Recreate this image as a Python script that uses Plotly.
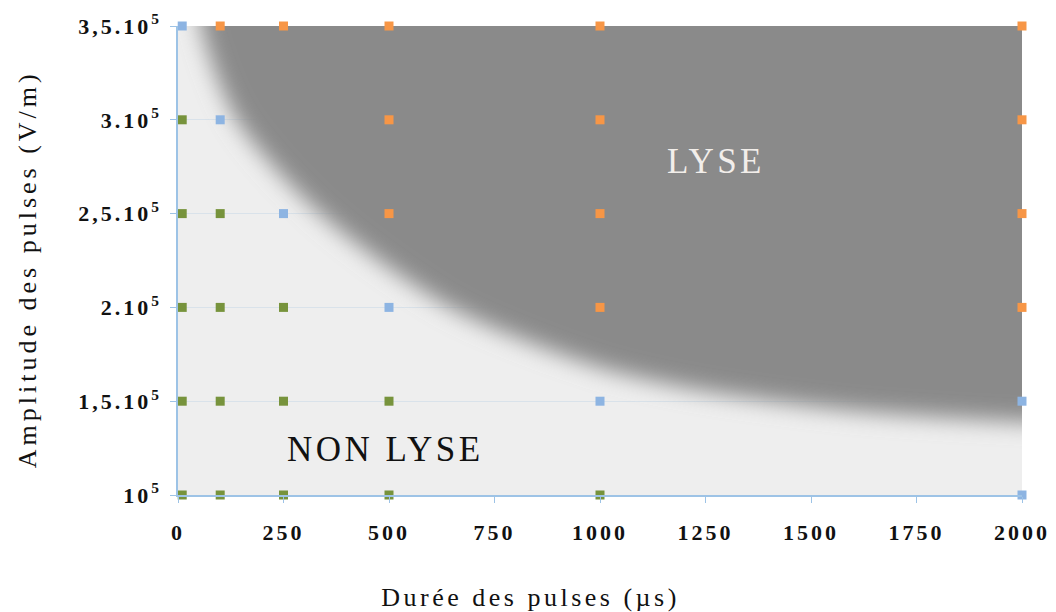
import plotly.graph_objects as go

# Pulse duration (µs) and pulse amplitude (V/m) grid
duration_ticks = [0, 250, 500, 750, 1000, 1250, 1500, 1750, 2000]
amplitude_ticks = [1.0e5, 1.5e5, 2.0e5, 2.5e5, 3.0e5, 3.5e5]
amplitude_labels = ["10<sup>5</sup>", "1,5.10<sup>5</sup>", "2.10<sup>5</sup>",
                    "2,5.10<sup>5</sup>", "3.10<sup>5</sup>", "3,5.10<sup>5</sup>"]

# Experimental conditions grouped by outcome
no_lysis_x = [10, 100, 250, 500, 1000, 10, 100, 250, 500, 10, 100, 250, 10, 100, 10]
no_lysis_y = [1.0e5, 1.0e5, 1.0e5, 1.0e5, 1.0e5, 1.5e5, 1.5e5, 1.5e5, 1.5e5,
              2.0e5, 2.0e5, 2.0e5, 2.5e5, 2.5e5, 3.0e5]

threshold_x = [2000, 1000, 2000, 500, 250, 100, 10]
threshold_y = [1.0e5, 1.5e5, 1.5e5, 2.0e5, 2.5e5, 3.0e5, 3.5e5]

lysis_x = [1000, 2000, 500, 1000, 2000, 500, 1000, 2000, 100, 250, 500, 1000, 2000]
lysis_y = [2.0e5, 2.0e5, 2.5e5, 2.5e5, 2.5e5, 3.0e5, 3.0e5, 3.0e5,
           3.5e5, 3.5e5, 3.5e5, 3.5e5, 3.5e5]

# Outline of the lysis domain (boundary read along the transition zone)
lysis_zone_x = [40, 55, 140, 337, 646, 1000, 1260, 1620, 2000, 2300, 2300, 40]
lysis_zone_y = [4.0e5, 3.5e5, 3.0e5, 2.5e5, 2.0e5, 1.68e5, 1.55e5, 1.445e5,
                1.39e5, 1.37e5, 4.2e5, 4.2e5]

GREEN = "#77933C"
BLUE = "#8DB4E2"
ORANGE = "#F79646"
AXIS_BLUE = "#9DC3E6"
SERIF = "Liberation Serif, Times New Roman, serif"

fig = go.Figure()

fig.add_trace(go.Scatter(
    x=lysis_zone_x, y=lysis_zone_y, mode="lines", fill="toself",
    fillcolor="#8a8a8a", line=dict(width=0, shape="spline", smoothing=0.8),
    hoverinfo="skip", showlegend=False,
))

for xs, ys, col in [(no_lysis_x, no_lysis_y, GREEN),
                    (threshold_x, threshold_y, BLUE),
                    (lysis_x, lysis_y, ORANGE)]:
    fig.add_trace(go.Scatter(
        x=xs, y=ys, mode="markers", cliponaxis=False,
        marker=dict(symbol="square", size=9, color=col, line=dict(width=0)),
        hoverinfo="skip", showlegend=False,
    ))

fig.update_layout(
    width=1056, height=612,
    margin=dict(l=178, r=34, t=26, b=117),
    paper_bgcolor="white", plot_bgcolor="#eeeeee",
    font=dict(family=SERIF, color="#111111"),
    xaxis=dict(
        range=[0, 2000], tickvals=duration_ticks,
        ticktext=[str(v) for v in duration_ticks],
        tickfont=dict(family=SERIF, size=22, weight="bold", color="#111111"),
        ticks="outside", ticklen=6, tickcolor=AXIS_BLUE, tickwidth=1,
        showline=True, linecolor=AXIS_BLUE, linewidth=1.5,
        showgrid=False, zeroline=False, ticklabelstandoff=11,
        automargin=False,
    ),
    yaxis=dict(
        range=[1.0e5, 3.5e5], tickvals=amplitude_ticks, ticktext=amplitude_labels,
        tickfont=dict(family=SERIF, size=22, weight="bold", color="#111111"),
        ticks="outside", ticklen=6, tickcolor=AXIS_BLUE, tickwidth=1,
        showline=True, linecolor=AXIS_BLUE, linewidth=1.5,
        showgrid=True, gridcolor="#d9e2ea", gridwidth=1, zeroline=False,
        ticklabelstandoff=4, automargin=False,
    ),
    annotations=[
        dict(text="Durée des pulses (µs)", xref="paper", yref="paper",
             x=0.418, y=-0.2175, xanchor="center", yanchor="middle",
             showarrow=False, font=dict(family=SERIF, size=26, color="#111111")),
        dict(text="Amplitude des pulses (V/m)", xref="paper", yref="paper",
             x=-0.178, y=0.481, xanchor="center", yanchor="middle",
             showarrow=False, textangle=-90,
             font=dict(family=SERIF, size=26, color="#111111")),
        dict(text="NON LYSE", xref="x", yref="y", x=492, y=1.24e5,
             xanchor="center", yanchor="middle", showarrow=False,
             font=dict(family=SERIF, size=35, color="#111111")),
        dict(text="LYSE", xref="x", yref="y", x=1275, y=2.78e5,
             xanchor="center", yanchor="middle", showarrow=False,
             font=dict(family=SERIF, size=35, color="#f2eeea")),
    ],
)

# Soft edge of the lysis domain and letter spacing of the serif labels
post_js = """
(function() {
  var gd = document.getElementById('{plot_id}');
  function decorate() {
    var svg = gd.querySelector('svg.main-svg');
    if (svg && !document.getElementById('lyseblur')) {
      var ns = 'http://www.w3.org/2000/svg';
      var defs = svg.querySelector('defs') || svg.insertBefore(document.createElementNS(ns, 'defs'), svg.firstChild);
      var f = document.createElementNS(ns, 'filter');
      f.setAttribute('id', 'lyseblur');
      f.setAttribute('x', '-50%'); f.setAttribute('y', '-50%');
      f.setAttribute('width', '200%'); f.setAttribute('height', '200%');
      var b = document.createElementNS(ns, 'feGaussianBlur');
      b.setAttribute('stdDeviation', '11');
      f.appendChild(b); defs.appendChild(f);
    }
    gd.querySelectorAll('.scatterlayer .js-fill').forEach(function(p) {
      p.setAttribute('filter', 'url(#lyseblur)');
    });
    gd.querySelectorAll('.xtick text, .ytick text').forEach(function(t) {
      t.style.letterSpacing = '3px';
    });
    var sp = ['3.5px', '4px', '3.5px', '3.5px'];
    gd.querySelectorAll('g.annotation').forEach(function(g, i) {
      var t = g.querySelector('text.annotation-text');
      if (t && sp[i]) { t.style.letterSpacing = sp[i]; }
    });
  }
  decorate();
  gd.on && gd.on('plotly_afterplot', decorate);
  setTimeout(decorate, 50);
})();
"""

fig.write_html("out.html", post_script=post_js)
